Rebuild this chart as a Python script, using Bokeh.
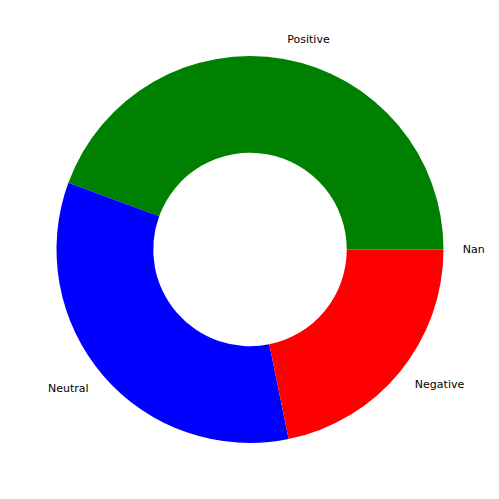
import math
from bokeh.plotting import figure
from bokeh.models import Range1d, ColumnDataSource
from bokeh.core.properties import value
from bokeh.embed import file_html
from bokeh.resources import INLINE

labels = ["Positive", "Neutral", "Negative", "Nan"]
values = [44.4, 33.8, 21.8, 0.0]
colors = ["#008000", "#0000ff", "#ff0000", "#1f77b4"]

W, H = 491, 483
p = figure(width=W, height=H, output_backend="svg", toolbar_location=None,
           x_range=Range1d(0, W), y_range=Range1d(0, H),
           min_border=0, outline_line_color=None)
p.axis.visible = False
p.grid.visible = False
p.background_fill_color = "white"
p.border_fill_color = "white"

cx, cy = 249.5, 234.0
R = 193.5
r_in = R * 0.5

total = sum(values)
tx, ty, talign = [], [], []
acc = 0.0
ws, we, wc = [], [], []
for lab, v, c in zip(labels, values, colors):
    a0 = 2 * math.pi * acc / total
    acc += v
    a1 = 2 * math.pi * acc / total
    if v > 0:
        ws.append(a0); we.append(a1); wc.append(c)
    mid = (a0 + a1) / 2
    x = cx + 1.1 * R * math.cos(mid)
    y = cy + 1.1 * R * math.sin(mid)
    tx.append(x); ty.append(y)
    talign.append("left" if math.cos(mid) >= 0 else "right")

src = ColumnDataSource(dict(x=[cx] * len(ws), y=[cy] * len(ws), s=ws, e=we, c=wc))
p.annular_wedge(x="x", y="y", inner_radius=r_in, outer_radius=R,
                start_angle="s", end_angle="e", fill_color="c", line_color=None,
                source=src)

tsrc = ColumnDataSource(dict(x=tx, y=ty, t=labels, a=talign))
p.text(x="x", y="y", text="t", text_align="a", text_baseline="middle",
       text_font=value("DejaVu Sans"), text_font_size="11px", text_color="black",
       source=tsrc)

open("out.html", "w").write(file_html(p, INLINE))
